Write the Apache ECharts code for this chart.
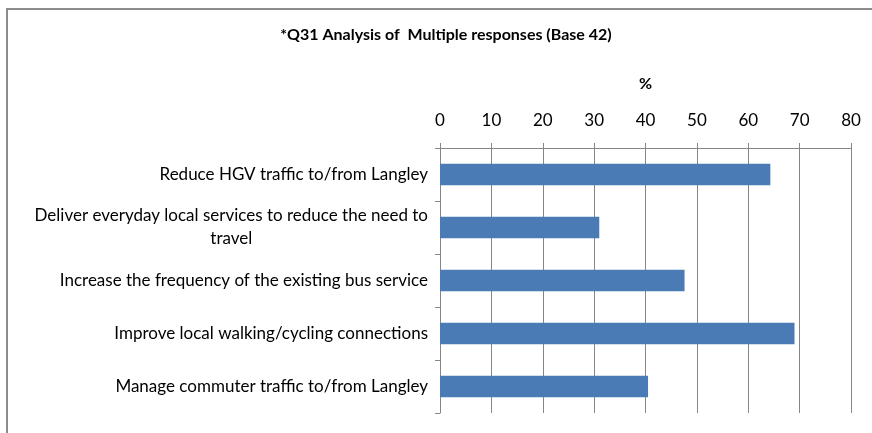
<!DOCTYPE html>
<html>
<head>
<meta charset="utf-8">
<script src="https://cdn.jsdelivr.net/npm/echarts@6/dist/echarts.min.js"></script>
<style>
  html, body { margin: 0; padding: 0; background: #fff; }
  #frame { position: absolute; left: 6px; top: 8px; width: 900px; height: 460px;
           border-left: 2px solid #8c8c8c; border-top: 2px solid #8c8c8c; }
  #chart { position: absolute; left: 0; top: 0; width: 872px; height: 433px; }
</style>
</head>
<body>
<div id="frame"></div>
<div id="chart"></div>
<script>
const categories = [
  'Reduce HGV traffic to/from Langley',
  'Deliver everyday local services to reduce the need to\ntravel',
  'Increase the frequency of the existing bus service',
  'Improve local walking/cycling connections',
  'Manage commuter traffic to/from Langley'
]
const percents = [64.3, 31.0, 47.6, 69.0, 40.5]
const xTicks = [0, 10, 20, 30, 40, 50, 60, 70, 80]

const chart = echarts.init(document.getElementById('chart'))
const axisGrey = '#868686'

chart.setOption({
  animation: false,
  textStyle: { fontFamily: 'Lato' },
  title: {
    text: '*Q31 Analysis of  Multiple responses (Base 42)',
    left: 441,
    textAlign: 'center',
    top: 22,
    textStyle: { fontSize: 16, fontWeight: 'bold', color: '#000', fontFamily: 'Lato' }
  },
  grid: { left: 440, right: 21, top: 148, bottom: 20 },
  xAxis: {
    type: 'value',
    position: 'top',
    min: xTicks[0],
    max: xTicks[xTicks.length - 1],
    interval: 10,
    name: '%',
    nameLocation: 'middle',
    nameGap: 56,
    nameTextStyle: { fontSize: 16, fontWeight: 'bold', color: '#000' },
    axisLine: { show: true, lineStyle: { color: axisGrey, width: 1 } },
    axisTick: { show: true, length: 5, lineStyle: { color: axisGrey } },
    axisLabel: { fontSize: 17, color: '#000', margin: 19 },
    splitLine: { show: true, lineStyle: { color: axisGrey, width: 1 } }
  },
  yAxis: {
    type: 'category',
    inverse: true,
    data: categories,
    axisLine: { show: true, lineStyle: { color: axisGrey, width: 1 } },
    axisTick: { show: true, length: 5, lineStyle: { color: axisGrey } },
    axisLabel: {
      fontSize: 17,
      color: '#000',
      margin: 12,
      lineHeight: 23,
      formatter: (v) => v.split('\n').map(s => '{c|' + s + '}').join('\n'),
      rich: { c: { align: 'center', fontSize: 17, color: '#000', lineHeight: 23, fontFamily: 'Lato' } }
    },
    splitLine: { show: false }
  },
  series: [{
    type: 'bar',
    data: percents,
    barCategoryGap: '59%',
    itemStyle: { color: '#4a7bb5' }
  }]
})
</script>
</body>
</html>
